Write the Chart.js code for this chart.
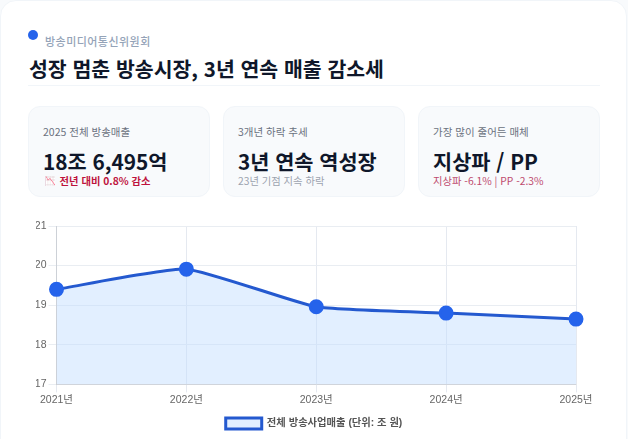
<!DOCTYPE html>
<html lang="ko">
<head>
<meta charset="utf-8">
<title>방송시장 매출 추이</title>
<script src="https://cdn.jsdelivr.net/npm/chart.js@4"></script>
<style>
  * { box-sizing: border-box; margin: 0; padding: 0; }
  html, body { width: 628px; height: 439px; overflow: hidden; background: #f8fafc; }
  body { font-family: "Noto Sans CJK KR", "Noto Sans", sans-serif; }
  .card {
    position: absolute; left: 0; top: 0; width: 627px; height: 460px;
    background: #fff; border: 1px solid #f1f5f9; border-radius: 16px;
  }
  .dot { position: absolute; left: 28px; top: 30px; width: 10px; height: 10px; border-radius: 50%; background: #2563eb; }
  .source { position: absolute; left: 45px; top: 33px; font-size: 11px; line-height: 17px; letter-spacing: 0.45px; color: #94a3b8; font-weight: 500; white-space: nowrap; }
  h1 { position: absolute; left: 29px; top: 54px; font-size: 20.5px; line-height: 28px; font-weight: 700; color: #0f172a; white-space: nowrap; }
  .rule { position: absolute; left: 28px; top: 85px; width: 572px; height: 1px; background: #f1f5f9; }
  .kpi {
    position: absolute; top: 106px; width: 182px; height: 91px;
    background: #f8fafc; border: 1px solid #f1f5f9; border-radius: 12px;
  }
  .kpi span { position: absolute; left: 14px; white-space: nowrap; }
  .kpi .label { top: 17px; font-size: 10.5px; line-height: 16px; color: #6b7280; }
  .kpi .value { top: 39px; font-size: 20.8px; line-height: 30px; font-weight: 700; color: #0f172a; }
  .kpi .note { top: 66px; font-size: 10.3px; line-height: 16px; }
  .kpi .note i { font-style: normal; display: inline-block; width: 10px; height: 10px; line-height: 10px; font-size: 9px; margin: 0 4.6px 0 2px; background: #e9d5df; overflow: hidden; vertical-align: -1px; }
  .kpi .note i b { font-weight: 400; filter: hue-rotate(140deg); }
  .down { color: #be123c; font-weight: 700; }
  .muted { color: #9ca3af; }
  .soft { color: #be4a6e; }
  .chart-box { position: absolute; left: 28px; top: 217px; width: 572px; height: 222px; }
</style>
</head>
<body>
<div class="card"></div>
<div class="dot"></div>
<div class="source">방송미디어통신위원회</div>
<h1>성장 멈춘 방송시장, 3년 연속 매출 감소세</h1>
<div class="rule"></div>

<div class="kpi" style="left:28px">
  <span class="label">2025 전체 방송매출</span>
  <span class="value">18조 6,495억</span>
  <span class="note down"><i><b>📉</b></i>전년 대비 0.8% 감소</span>
</div>
<div class="kpi" style="left:223px">
  <span class="label">3개년 하락 추세</span>
  <span class="value">3년 연속 역성장</span>
  <span class="note muted">23년 기점 지속 하락</span>
</div>
<div class="kpi" style="left:418px">
  <span class="label">가장 많이 줄어든 매체</span>
  <span class="value">지상파 / PP</span>
  <span class="note soft">지상파 -6.1% | PP -2.3%</span>
</div>

<div class="chart-box"><canvas id="salesChart"></canvas></div>

<script>
  var years = ['2021년', '2022년', '2023년', '2024년', '2025년'];
  var salesTotal = [19.4, 19.91, 18.96, 18.8, 18.6495];
  var seriesName = '전체 방송사업매출 (단위: 조 원)';

  var axisFont = '"Liberation Sans", "Noto Sans CJK KR", sans-serif';

  var ctx = document.getElementById('salesChart').getContext('2d');
  window.salesChart = new Chart(ctx, {
    type: 'line',
    data: {
      labels: years,
      datasets: [{
        label: seriesName,
        data: salesTotal,
        borderColor: '#2459cf',
        backgroundColor: 'rgba(191, 219, 254, 0.45)',
        borderWidth: 3,
        fill: true,
        tension: 0.15,
        pointRadius: 6,
        pointBackgroundColor: '#2563eb',
        pointBorderColor: '#2563eb'
      }]
    },
    options: {
      responsive: true,
      maintainAspectRatio: false,
      animation: false,
      layout: { padding: { top: 8, left: 8, right: 8, bottom: 0 } },
      plugins: {
        legend: {
          position: 'bottom',
          labels: {
            color: '#555',
            boxWidth: 36,
            boxHeight: 11,
            padding: 11,
            font: { family: axisFont, size: 10.3, weight: 'bold' }
          }
        }
      },
      scales: {
        x: {
          // extra room on the right of the plot, the legend stays centred on the canvas
          afterFit: function (scale) { scale.paddingRight = 24; },
          ticks: { color: '#666', padding: 1, font: { family: axisFont, size: 10.5 }, maxRotation: 0 },
          grid: { color: '#e5e9f0' }
        },
        y: {
          min: 17,
          max: 21,
          // narrower gutter so the plot starts closer to the card edge
          afterFit: function (scale) { scale.width = 20.5; },
          ticks: { stepSize: 1, padding: 2, color: '#666', font: { family: axisFont, size: 10.5 } },
          grid: { color: '#e9edf2' }
        }
      }
    }
  });
</script>
</body>
</html>
